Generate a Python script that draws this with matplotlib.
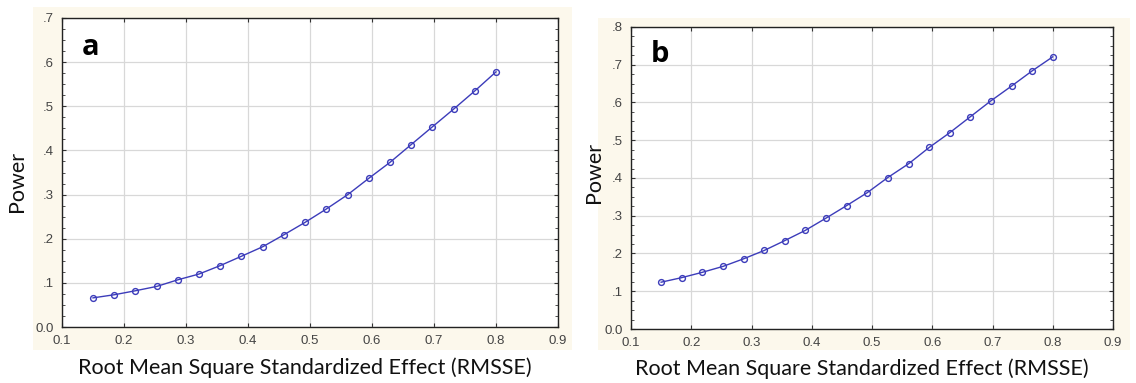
import matplotlib.pyplot as plt
from matplotlib.patches import Rectangle
from matplotlib.ticker import MultipleLocator, FuncFormatter

rmsse = [0.15, 0.184, 0.218, 0.253, 0.287, 0.321, 0.355, 0.389, 0.424, 0.458,
         0.492, 0.526, 0.561, 0.595, 0.629, 0.663, 0.697, 0.732, 0.766, 0.8]

power_a = [0.066, 0.073, 0.082, 0.092, 0.107, 0.120, 0.139, 0.160, 0.182, 0.209,
           0.237, 0.267, 0.300, 0.337, 0.373, 0.413, 0.453, 0.494, 0.535, 0.578]

power_b = [0.124, 0.136, 0.150, 0.166, 0.186, 0.208, 0.234, 0.261, 0.294, 0.327,
           0.361, 0.401, 0.438, 0.481, 0.520, 0.562, 0.604, 0.644, 0.684, 0.721]

W, H = 1136, 383
cream = '#fcf8ec'
blue = '#3c3cba'


def ytick_fmt(v, pos):
    if abs(v) < 1e-9:
        return '0.0'
    return ('%.1f' % v).lstrip('0')


def panel(fig, box, bg, y, ymax, letter, xlab_pos, ylab_pos, letter_y):
    # cream frame behind the plot area (pixel coords)
    bx0, by0, bx1, by1 = bg
    fig.patches.append(Rectangle((bx0 / W, 1 - by1 / H), (bx1 - bx0) / W, (by1 - by0) / H,
                                 transform=fig.transFigure, facecolor=cream,
                                 edgecolor='none', zorder=-5))
    x0, y0, x1, y1 = box
    ax = fig.add_axes([x0 / W, 1 - y1 / H, (x1 - x0) / W, (y1 - y0) / H])
    ax.set_zorder(2)
    ax.set_facecolor('white')
    ax.plot(rmsse, y, color=blue, lw=1.0, marker='o', ms=4.2, mfc='none',
            mec=blue, mew=1.0, zorder=3)
    ax.set_xlim(0.1, 0.9)
    ax.set_ylim(0, ymax)
    ax.xaxis.set_major_locator(MultipleLocator(0.1))
    ax.yaxis.set_major_locator(MultipleLocator(0.1))
    ax.yaxis.set_minor_locator(MultipleLocator(0.025))
    ax.yaxis.set_major_formatter(FuncFormatter(ytick_fmt))
    ax.xaxis.set_major_formatter(FuncFormatter(lambda v, p: '%.1f' % v))
    ax.grid(True, which='major', color='#d8d8d8', lw=0.9)
    ax.set_axisbelow(True)
    ax.tick_params(which='both', direction='in', top=True, right=True,
                   colors='#333333', labelcolor='#444444',
                   labelsize=9.5, labelfontfamily='Liberation Sans')
    ax.tick_params(which='major', length=3, width=0.8)
    ax.tick_params(which='minor', length=2, width=0.6)
    ax.tick_params(axis='x', pad=6)
    ax.tick_params(axis='y', pad=6)
    for s in ax.spines.values():
        s.set_color('#222222')
        s.set_linewidth(1.0)
    ax.set_xlabel('Root Mean Square Standardized Effect (RMSSE)',
                  fontsize=15.5, family='Lato', color='#111111')
    ax.set_ylabel('Power', fontsize=15.5, family='Lato', color='#111111')
    ax.xaxis.set_label_coords(*xlab_pos)
    ax.yaxis.set_label_coords(*ylab_pos)
    ax.text(0.04, letter_y, letter, transform=ax.transAxes, fontsize=21,
            fontweight='bold', family='Open Sans', va='center', ha='left')
    return ax


fig = plt.figure(figsize=(W / 100, H / 100), dpi=100)

panel(fig, (62, 18, 558, 327), (33, 7, 572, 350), power_a, 0.7, 'a',
      (0.49, -0.10), (-0.07, 0.47), 0.905)
panel(fig, (631, 27, 1113, 329), (598, 18, 1130, 350), power_b, 0.8, 'b',
      (0.479, -0.096), (-0.056, 0.52), 0.91)

fig.savefig('out.png', dpi=100)
